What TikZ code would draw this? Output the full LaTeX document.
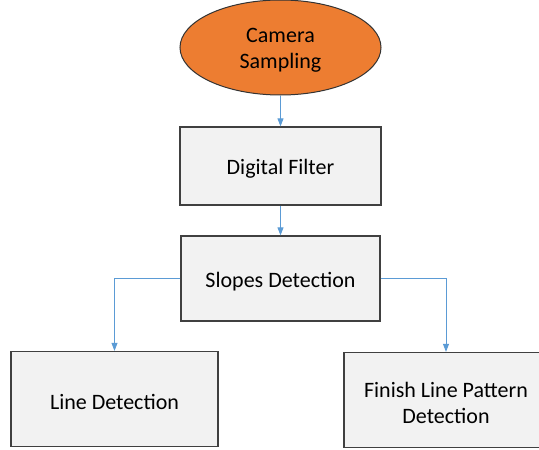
\documentclass[tikz,border=0pt]{standalone}
\usepackage{fontspec}
\setmainfont{Carlito}
\usetikzlibrary{shapes.geometric,arrows.meta}
\definecolor{orangefill}{HTML}{ED7D31}
\definecolor{boxfill}{HTML}{F2F2F2}
\definecolor{boxline}{HTML}{404040}
\definecolor{arrowblue}{HTML}{5B9BD5}
\begin{document}
\begin{tikzpicture}[x=1pt,y=-1pt,
  every node/.style={inner sep=0pt},
  lbl/.style={font=\fontsize{22}{26.5}\selectfont, align=center, yshift=-3pt},
  procbox/.style={draw=boxline, line width=1.3pt, fill=boxfill},
  startell/.style={ellipse, draw=black!80, line width=1pt, fill=orangefill},
  flow/.style={draw=arrowblue, line width=0.9pt, -{Triangle[length=8pt,width=6pt]}}
]
\useasboundingbox (0,0) rectangle (539,450);
\node[startell, minimum width=201pt, minimum height=95pt] (cam) at (280.5,47.5) {};
\node[lbl] (camt) at (cam.center) {Camera\\Sampling};
\node[procbox, minimum width=201pt, minimum height=78pt] (dig) at (280.5,166) {};
\node[lbl] (digt) at (dig.center) {Digital Filter};
\node[procbox, minimum width=199pt, minimum height=85pt] (slo) at (280.5,278.5) {};
\node[lbl] (slot) at (slo.center) {Slopes Detection};
\node[procbox, minimum width=207pt, minimum height=95pt] (line) at (114.5,399) {};
\node[lbl] (linet) at (line.center) {Line Detection};
\node[procbox, minimum width=210pt, minimum height=95pt] (fin) at (449,400) {};
\node[lbl] (fint) at (446,400) {Finish Line Pattern\\Detection};
\coordinate (lc) at (114.5,278.5);
\coordinate (rc) at (446,278.5);
\draw[flow] (cam.south) -- (dig.north);
\draw[flow] (dig.south) -- (slo.north);
\draw[flow] (slo.west) -- (lc) -- (line.north);
\draw[flow] (slo.east) -- (rc) -- (rc |- fin.north);
\end{tikzpicture}
\end{document}
